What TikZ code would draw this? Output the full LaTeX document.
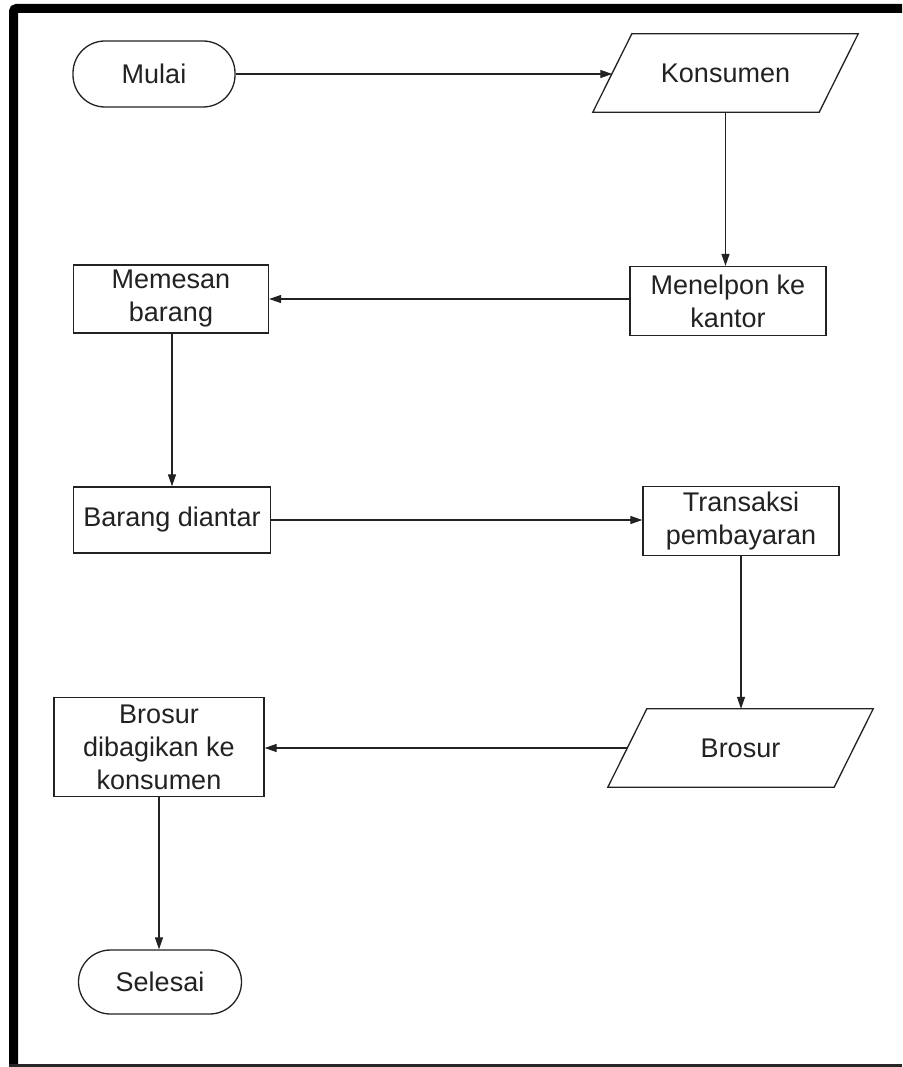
\documentclass[tikz,border=0pt]{standalone}
\usepackage{fontspec}
\setmainfont{Liberation Sans}
\usetikzlibrary{arrows.meta,calc}
\definecolor{ink}{HTML}{222222}
\tikzset{
  box/.style={draw=ink, line width=1.3pt, fill=white, rectangle, inner sep=0pt,
    align=center, text=ink, font=\fontsize{27}{33}\selectfont},
  term/.style={box, rounded corners=32pt},
  io/.style={rectangle, inner sep=0pt, minimum width=226pt, minimum height=78pt,
    align=center, text=ink, font=\fontsize{27}{33}\selectfont},
  para/.style={draw=ink, line width=1.3pt, fill=white, line join=miter},
  flow/.style={draw=ink, line width=1.2pt, -{Triangle[length=12pt,width=8pt]}},
}
\newcommand{\parashape}[1]{%
  \path[para] ($(#1.north west)+(19.5pt,0)$) -- ($(#1.north east)+(19.5pt,0)$)
    -- ($(#1.south east)+(-19.5pt,0)$) -- ($(#1.south west)+(-19.5pt,0)$) -- cycle;}
\begin{document}
\begin{tikzpicture}[x=1pt,y=-1pt]
\useasboundingbox (0,0) rectangle (902,1067);
\fill[white] (0,0) rectangle (902,1067);
% frame
\draw[line width=9pt, black, rounded corners=3pt] (902,8.5) -- (13.5,8.5) -- (13.5,1067);
\draw[line width=3pt, black!85] (9,1065.5) -- (902,1065.5);

\node[term, minimum width=162pt, minimum height=66pt] (mulai) at (154,74) {Mulai};
\node[io] (konsumen) at (725.5,73) {};
\parashape{konsumen}
\node[io] at (konsumen.center) {Konsumen};
\node[box, minimum width=196pt, minimum height=69pt] (menelpon) at (728,301) {Menelpon ke\\kantor};
\node[box, minimum width=195pt, minimum height=68pt] (memesan) at (171,299) {Memesan\\barang};
\node[box, minimum width=197pt, minimum height=66pt] (barang) at (172,520) {Barang diantar};
\node[box, minimum width=196pt, minimum height=69pt] (transaksi) at (741,521) {Transaksi\\pembayaran};
\node[io] (brosur) at (740.5,748) {};
\parashape{brosur}
\node[io] at (brosur.center) {Brosur};
\node[box, minimum width=210pt, minimum height=99pt] (dibagikan) at (159,747) {Brosur\\dibagikan ke\\konsumen};
\node[term, minimum width=163pt, minimum height=64pt] (selesai) at (160,982) {Selesai};

\draw[flow] (mulai.east) -- (mulai.east -| konsumen.west);
\draw[flow] (konsumen.south) -- (konsumen.south |- menelpon.north);
\draw[flow] (menelpon.west |- memesan.east) -- (memesan.east);
\draw[flow] (memesan.south -| barang.north) -- (barang.north);
\draw[flow] (barang.east) -- (barang.east -| transaksi.west);
\draw[flow] (transaksi.south) -- (transaksi.south |- brosur.north);
\draw[flow] (brosur.west) -- (brosur.west -| dibagikan.east);
\draw[flow] (dibagikan.south) -- (dibagikan.south |- selesai.north);
\end{tikzpicture}
\end{document}
